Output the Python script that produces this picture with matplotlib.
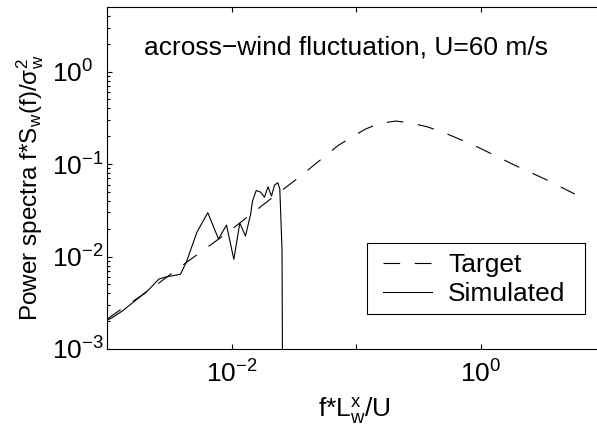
import matplotlib
matplotlib.use("Agg")
import matplotlib.pyplot as plt
from matplotlib.patches import Rectangle
from matplotlib.ticker import FixedLocator, FixedFormatter, LogLocator, NullFormatter

# -----------------------------
# Data (log-log)
# -----------------------------
target_x = [1.0e-3, 1.33e-3, 2.15e-3, 4.35e-3, 8.95e-3, 0.0181, 0.0358, 0.0719,
            0.0933, 0.119, 0.154, 0.208, 0.274, 0.373, 0.492, 0.642, 0.884,
            1.876, 3.33, 5.72]
target_y = [2.1e-3, 2.75e-3, 4.25e-3, 8.65e-3, 0.0175, 0.0366, 0.0741, 0.159,
            0.197, 0.239, 0.275, 0.292, 0.279, 0.253, 0.223, 0.192, 0.160,
            0.0975, 0.0684, 0.0474]

sim_x = [1.008e-3, 1.081e-3, 1.331e-3, 2.153e-3, 2.61e-3, 2.95e-3, 3.89e-3,
         4.35e-3, 5.28e-3, 6.45e-3, 7.86e-3, 9.12e-3, 0.01044, 0.01166,
         0.01295, 0.01422, 0.01475, 0.01579, 0.0171, 0.0184, 0.01965,
         0.02096, 0.02215, 0.02355, 0.02444, 0.02546, 0.02618]
sim_y = [2.06e-3, 2.15e-3, 2.58e-3, 4.35e-3, 5.71e-3, 6.0e-3, 6.43e-3,
         8.79e-3, 0.0184, 0.0298, 0.0155, 0.0219, 9.33e-3, 0.0230,
         0.01667, 0.0284, 0.0398, 0.0518, 0.0498, 0.0439, 0.0569,
         0.0451, 0.0593, 0.0628, 0.0537, 0.01175, 1e-6]

x_ticks = [1e-3, 1e-2, 1e-1, 1e0, 1e1]
x_tick_labels = ["", r"$10^{-2}$", "", r"$10^{0}$", ""]
y_ticks = [1e-3, 1e-2, 1e-1, 1e0]
y_tick_labels = [r"$10^{-3}$", r"$10^{-2}$", r"$10^{-1}$", r"$10^{0}$"]

# -----------------------------
# Style
# -----------------------------
plt.rcParams["font.family"] = ["Liberation Sans", "DejaVu Sans"]
plt.rcParams["mathtext.fontset"] = "custom"
plt.rcParams["mathtext.rm"] = "Liberation Sans"
plt.rcParams["mathtext.it"] = "Liberation Sans"
plt.rcParams["mathtext.bf"] = "Liberation Sans:bold"
plt.rcParams["mathtext.default"] = "regular"
plt.rcParams["lines.scale_dashes"] = False

W, H = 597, 430
fig = plt.figure(figsize=(W / 100, H / 100), dpi=100)
ax = fig.add_axes([107 / W, 1 - 349 / H, 498 / W, 342 / H])

ax.plot(target_x, target_y, color="black", lw=0.8, dashes=(12, 10.5), label="Target")
ax.plot(sim_x, sim_y, color="black", lw=0.8, label="Simulated")

ax.set_xscale("log")
ax.set_yscale("log")
ax.set_xlim(1e-3, 1e1)
ax.set_ylim(1e-3, 5)

ax.xaxis.set_major_locator(FixedLocator(x_ticks))
ax.xaxis.set_major_formatter(FixedFormatter(x_tick_labels))
ax.xaxis.set_minor_locator(FixedLocator([]))
ax.yaxis.set_major_locator(FixedLocator(y_ticks))
ax.yaxis.set_major_formatter(FixedFormatter(y_tick_labels))
ax.yaxis.set_minor_locator(LogLocator(base=10, subs=range(2, 10)))
ax.yaxis.set_minor_formatter(NullFormatter())

ax.tick_params(which="both", direction="in", top=True, right=True, width=0.8)
ax.tick_params(which="major", length=3.6, labelsize=19)
ax.tick_params(axis="x", which="major", pad=8)
ax.tick_params(axis="y", which="major", pad=39.6)
ax.tick_params(which="minor", length=2.2)
for lbl in ax.get_yticklabels():
    lbl.set_horizontalalignment("left")
for s in ax.spines.values():
    s.set_linewidth(0.8)

ax.set_xlabel(r"f*L$_{w}^{x}$/U", fontsize=19)
ax.xaxis.set_label_coords(0.496, -0.135)
ax.set_ylabel(r"Power spectra f*S$_{w}$(f)/σ$_{w}^{2}$", fontsize=17.5)
ax.yaxis.set_label_coords(-0.123, 0.471)

ax.text(346 / W, 1 - 47 / H, "across−wind fluctuation, U=60 m/s",
        transform=fig.transFigure, ha="center", va="center", fontsize=19)

# legend box drawn separately (MATLAB-style wide padding)
box = Rectangle((367 / W, 1 - 314 / H), (585 - 367) / W, (314 - 243) / H,
                transform=fig.transFigure, facecolor="white", edgecolor="black",
                lw=0.8, zorder=4.9)
ax.add_patch(box)
leg = ax.legend(loc="center left", bbox_to_anchor=(383 / W, 1 - 279.7 / H),
                bbox_transform=fig.transFigure, borderaxespad=0, fontsize=19,
                frameon=False, handlelength=1.86, handletextpad=0.61,
                labelspacing=0.2, borderpad=0)

fig.savefig("out.png", dpi=100)
